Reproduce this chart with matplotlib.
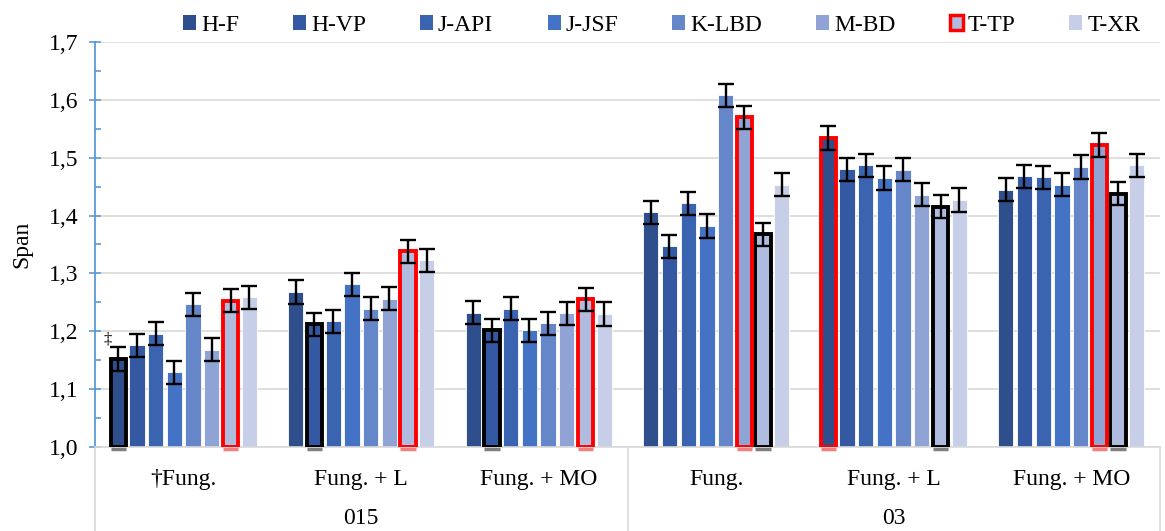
import matplotlib
matplotlib.use("Agg")
import matplotlib.pyplot as plt
import numpy as np
from matplotlib.patches import Patch
import matplotlib.transforms as mtransforms

plt.rcParams['font.family'] = ['Liberation Serif', 'DejaVu Serif']

series = ["H-F", "H-VP", "J-API", "J-JSF", "K-LBD", "M-BD", "T-TP", "T-XR"]
categories = ["†Fung.", "Fung. + L", "Fung. + MO", "Fung.", "Fung. + L", "Fung. + MO"]
groups = ["015", "03"]
yticks = ["1,0", "1,1", "1,2", "1,3", "1,4", "1,5", "1,6", "1,7"]

# values[category][series]
values = [
    [1.152, 1.176, 1.196, 1.129, 1.247, 1.168, 1.253, 1.259],
    [1.268, 1.212, 1.217, 1.281, 1.239, 1.256, 1.338, 1.323],
    [1.232, 1.202, 1.239, 1.202, 1.214, 1.231, 1.255, 1.230],
    [1.406, 1.347, 1.421, 1.382, 1.608, 1.570, 1.368, 1.453],
    [1.534, 1.480, 1.487, 1.465, 1.479, 1.436, 1.415, 1.427],
    [1.445, 1.468, 1.466, 1.453, 1.484, 1.522, 1.438, 1.487],
]
errors = 0.02
# highlighted bars: (category index, series index)
black_marked = [(0, 0), (1, 1), (2, 1), (3, 6), (4, 6), (5, 6)]
red_marked = [(0, 6), (1, 6), (2, 6), (3, 5), (4, 0), (5, 5)]

colors = ["#2e4f8c", "#3459a2", "#3a63b0", "#4472c4", "#6686ca", "#8fa4d5", "#afbce0", "#c6cfe7"]

FS = 17

fig = plt.figure(figsize=(11.65, 5.31), dpi=100)
ax = fig.add_axes([95/1165, 84/531, 1065/1165, 405/531])

slot = 0.1054
width = 0.086
vals = np.array(values)
x = np.arange(len(categories))
for j, s in enumerate(series):
    pos = x + (j - 3.5) * slot
    ax.bar(pos, vals[:, j] - 1.0, bottom=1.0, width=width, color=colors[j],
           edgecolor="white", linewidth=0.6, zorder=2, label=s)
    ax.errorbar(pos, vals[:, j], yerr=errors, fmt="none", ecolor="black",
                elinewidth=1.7, capsize=5.5, capthick=1.7, zorder=4)

for (ci, sj), ec, uc in [(p, "black", "#7f7f7f") for p in black_marked] + \
                        [(p, "#ff0000", "#f08080") for p in red_marked]:
    pos = ci + (sj - 3.5) * slot
    ax.bar(pos, vals[ci, sj] - 1.0, bottom=1.0, width=width, color=colors[sj],
           edgecolor=ec, linewidth=2.8, zorder=3)
    ax.plot([pos - width / 2, pos + width / 2], [0.9965, 0.9965], color=uc,
            lw=2.5, solid_capstyle="butt", clip_on=False, zorder=5)

ax.text(0 - 3.5 * slot - 0.06, 1.185, "‡", fontsize=12, ha="center", va="center")

ax.set_xlim(-0.5, 5.5)
ax.set_ylim(1.0, 1.7)
ax.set_yticks(np.arange(1.0, 1.701, 0.1))
ax.set_yticklabels(yticks, fontsize=FS)
ax.set_yticks(np.arange(1.05, 1.7, 0.1), minor=True)
ax.tick_params(axis="y", which="major", direction="inout", length=8, width=1.2,
               color="#5b9bd5", pad=8)
ax.tick_params(axis="y", which="minor", direction="in", length=4, width=1.2,
               color="#5b9bd5")
ax.set_ylabel("Span", fontsize=FS, labelpad=12)
ax.grid(axis="y", color="#d9d9d9", linewidth=1.2, zorder=0)
ax.set_axisbelow(True)

for sp in ["top", "right"]:
    ax.spines[sp].set_visible(False)
ax.spines["left"].set_color("#5b9bd5")
ax.spines["left"].set_linewidth(1.3)
ax.spines["bottom"].set_color("#d9d9d9")
ax.spines["bottom"].set_linewidth(1.2)

ax.set_xticks(x)
ax.set_xticklabels(categories, fontsize=FS)
ax.tick_params(axis="x", length=0, pad=16)

trans = mtransforms.blended_transform_factory(ax.transData, ax.transAxes)
for gi, g in enumerate(groups):
    ax.text(gi * 3 + 1, -72 / 405, g, transform=trans, fontsize=FS, ha="center", va="center")
for xs in [-0.5, 2.5, 5.5]:
    ax.plot([xs, xs], [0, -0.21], transform=trans, color="#d9d9d9", lw=1.2, clip_on=False)

handles = []
for j, s in enumerate(series):
    if s == "T-TP":
        handles.append(Patch(facecolor=colors[j], edgecolor="#ff0000", linewidth=2.5, label=s))
    else:
        handles.append(Patch(facecolor=colors[j], edgecolor="none", label=s))
fig.legend(handles=handles, loc="upper center", bbox_to_anchor=(0.568, 1.012), ncol=8,
           frameon=False, fontsize=FS, handlelength=0.55, handleheight=0.6,
           handletextpad=0.2, columnspacing=2.3)

fig.savefig("out.png", dpi=100)
